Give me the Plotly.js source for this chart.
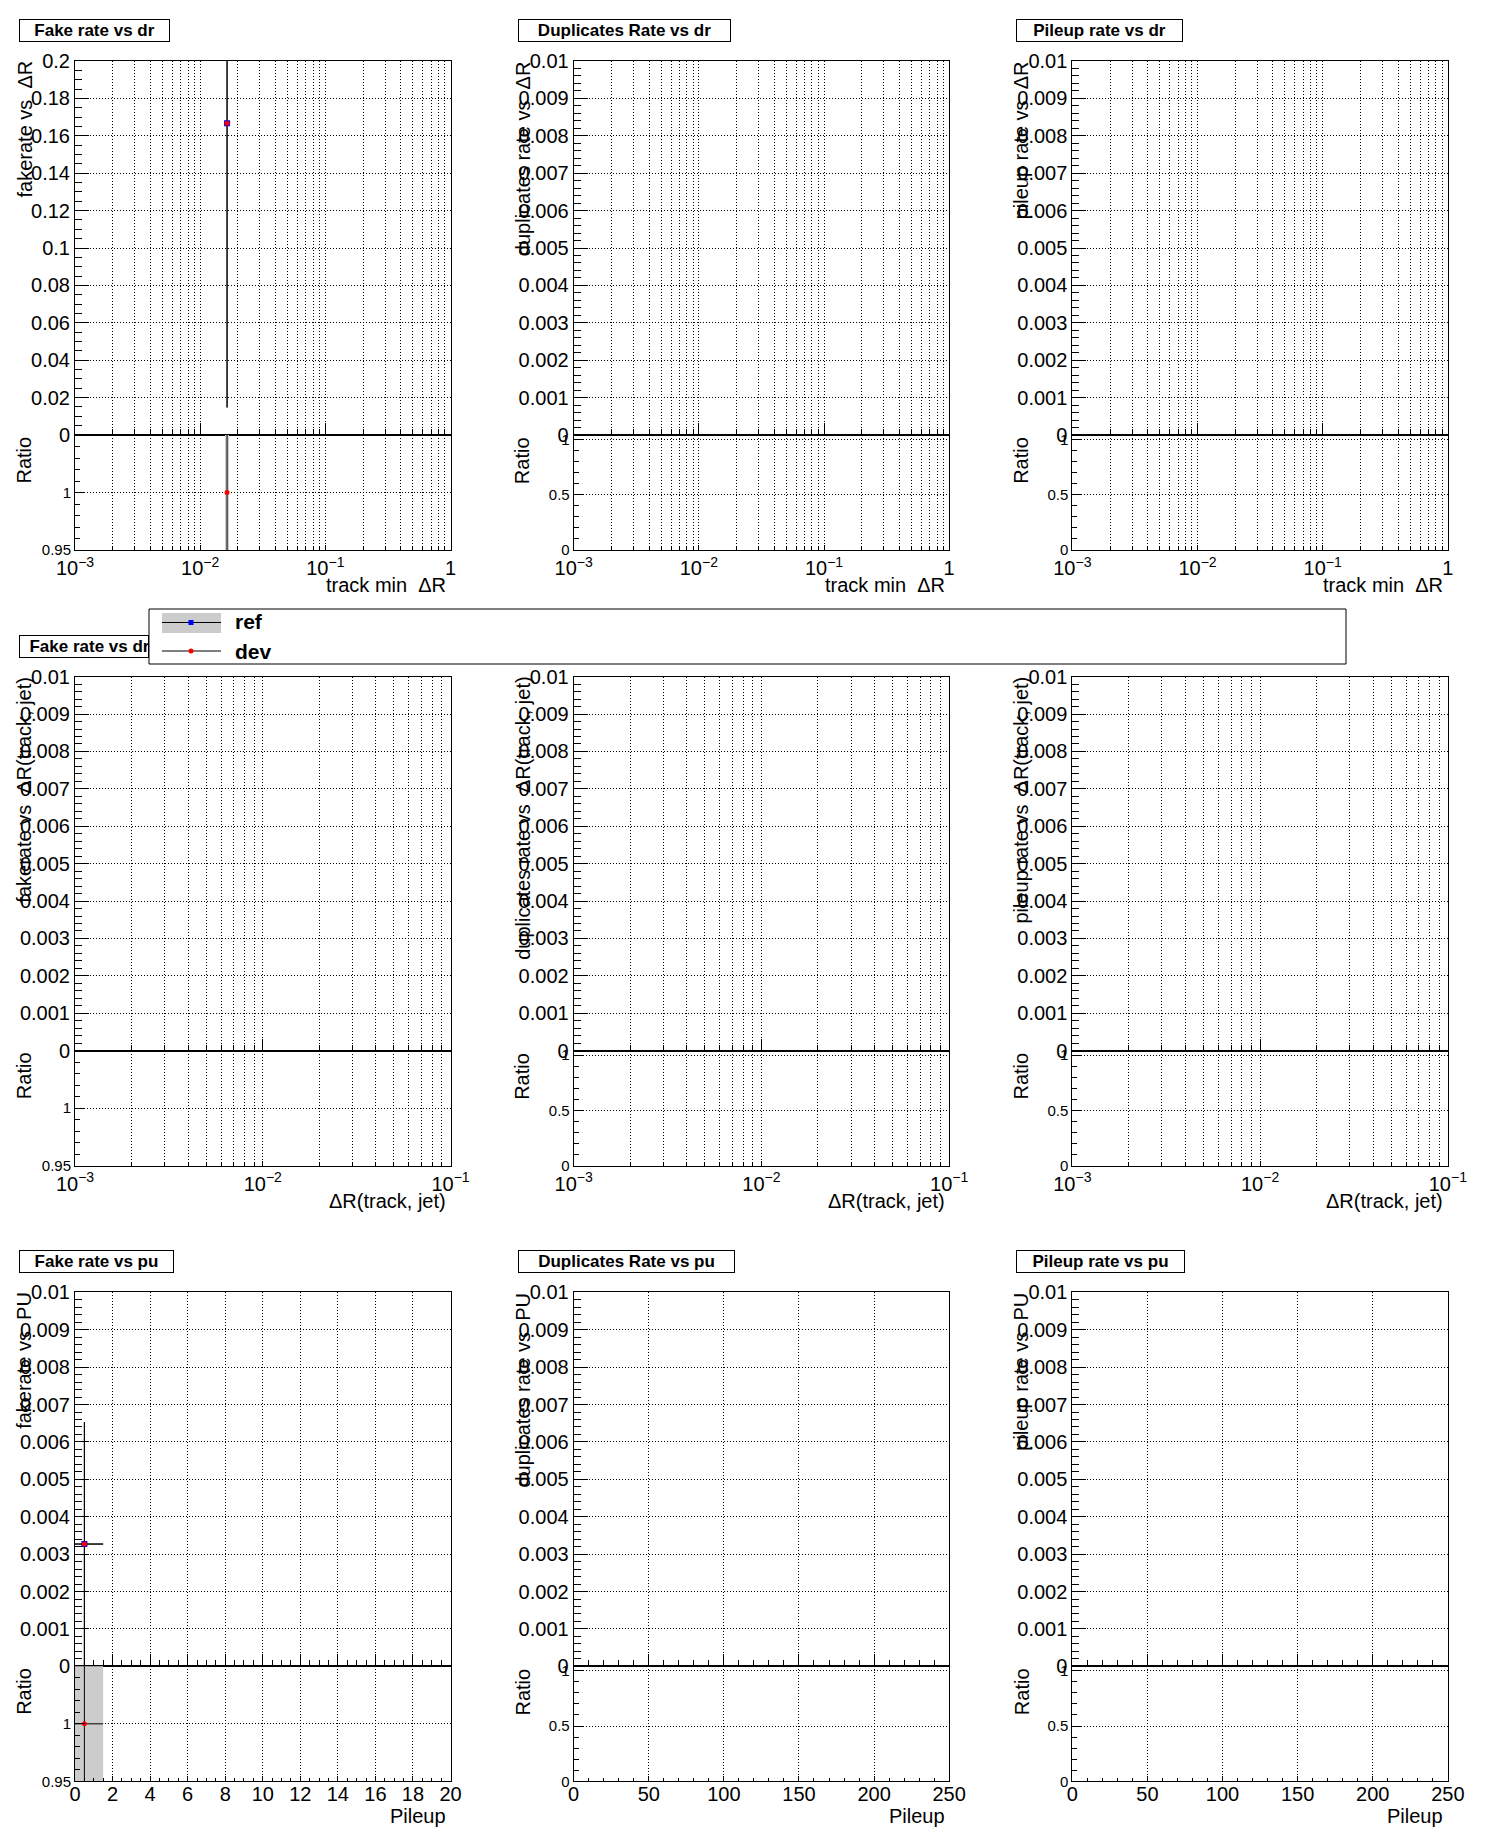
<!DOCTYPE html>
<html><head><meta charset="utf-8">
<script src="https://cdn.plot.ly/plotly-3.0.1.min.js"></script>
<style>html,body{margin:0;padding:0;background:#fff;}</style>
</head><body>
<div id="chart" style="width:1496px;height:1847px;"></div>
<script>
// ---------------- data ----------------
const panelTitles = [
  ["Fake rate vs dr", "Duplicates Rate vs dr", "Pileup rate vs dr"],
  ["Fake rate vs drj", null, null],
  ["Fake rate vs pu", "Duplicates Rate vs pu", "Pileup rate vs pu"]
];
const titleBoxWidths = [[151, 213, 167], [130, 0, 0], [155, 217, 169]];
const yTitles = [
  ["fakerate vs \u00a0\u0394R", "duplicates rate vs \u00a0\u0394R", "pileup rate vs \u00a0\u0394R"],
  ["fakerate vs \u00a0\u0394R(track, jet)", "duplicates rate vs \u00a0\u0394R(track, jet)", "pileup rate vs \u00a0\u0394R(track, jet)"],
  ["fakerate vs \u00a0PU", "duplicates rate vs \u00a0PU", "pileup rate vs \u00a0PU"]
];
const xTitles = ["track min \u00a0\u0394R", "\u0394R(track, jet)", "Pileup"];
const legendLabels = ["ref", "dev"];

const xTickValsDr = [0.001, 0.01, 0.1, 1];
const xTickTextDr = ["10<sup>\u22123</sup>", "10<sup>\u22122</sup>", "10<sup>\u22121</sup>", "1"];
const xTickValsDrj = [0.001, 0.01, 0.1];
const xTickTextDrj = ["10<sup>\u22123</sup>", "10<sup>\u22122</sup>", "10<sup>\u22121</sup>"];
const xTickValsPuFake = [0, 2, 4, 6, 8, 10, 12, 14, 16, 18, 20];
const xTickTextPuFake = ["0", "2", "4", "6", "8", "10", "12", "14", "16", "18", "20"];
const xTickValsPu = [0, 50, 100, 150, 200, 250];
const xTickTextPu = ["0", "50", "100", "150", "200", "250"];

const yTickValsFake = [0, 0.02, 0.04, 0.06, 0.08, 0.1, 0.12, 0.14, 0.16, 0.18, 0.2];
const yTickTextFake = ["0", "0.02", "0.04", "0.06", "0.08", "0.1", "0.12", "0.14", "0.16", "0.18", "0.2"];
const yTickValsRate = [0, 0.001, 0.002, 0.003, 0.004, 0.005, 0.006, 0.007, 0.008, 0.009, 0.01];
const yTickTextRate = ["0", "0.001", "0.002", "0.003", "0.004", "0.005", "0.006", "0.007", "0.008", "0.009", "0.01"];
const ratioTickValsNarrow = [0.95, 1];
const ratioTickTextNarrow = ["0.95", "1"];
const ratioTickValsWide = [0, 0.5, 1];
const ratioTickTextWide = ["0", "0.5", "1"];

// Fake rate vs track min dR: the one filled bin
const fakeDrX = [0.0164];
const fakeDrBinLo = [0.0158];
const fakeDrBinHi = [0.0170];
const fakeDrRef = [0.1667];
const fakeDrRefErr = [0.152];
const fakeDrDev = [0.1667];
const fakeDrDevErr = [0.152];

// Fake rate vs pileup: the one filled bin
const fakePuX = [0.5];
const fakePuXErr = [1.0];
const fakePuRef = [0.00327];
const fakePuRefErr = [0.00326];
const fakePuDev = [0.00327];
const fakePuDevErr = [0.00326];

// ---------------- layout helpers ----------------
const W = 1496, H = 1847;
const COLW = 498.67, ROWH = 615.67;
const FL = 75, FR = 450.5, FT = 61, FB = 435, FE = 550;
const FONT = "Liberation Sans, Arial, Helvetica, sans-serif";
const GRIDDASH = "1px,2px";
const px = x => x / W;
const py = y => 1 - y / H;
const id = n => (n === 1 ? "" : String(n));

const layout = {
  width: W, height: H, autosize: false,
  margin: {l: 0, r: 0, t: 0, b: 0},
  paper_bgcolor: "white", plot_bgcolor: "white",
  showlegend: false,
  font: {family: FONT, color: "black"},
  annotations: [],
  shapes: []
};
const traces = [];

const axBase = {
  showline: true, mirror: true, linecolor: "black", linewidth: 1,
  zeroline: false, showgrid: true, gridcolor: "black", gridwidth: 1, griddash: GRIDDASH,
  ticks: "inside", tickcolor: "black", tickwidth: 1, fixedrange: true,
  tickmode: "array"
};

function xSpec(r, c) {
  if (r === 0) return {type: "log", range: [-3, 0], tickvals: xTickValsDr, ticktext: xTickTextDr, mdt: "D1", mgrid: true, shift: 0};
  if (r === 1) return {type: "log", range: [-3, -1], tickvals: xTickValsDrj, ticktext: xTickTextDrj, mdt: "D1", mgrid: true, shift: 0};
  if (c === 0) return {type: "linear", range: [0, 20], tickvals: xTickValsPuFake, ticktext: xTickTextPuFake, mdt: 0.5, mgrid: false, shift: -5};
  return {type: "linear", range: [0, 250], tickvals: xTickValsPu, ticktext: xTickTextPu, mdt: 10, mgrid: false, shift: -5};
}

for (let r = 0; r < 3; r++) {
  for (let c = 0; c < 3; c++) {
    const p = r * 3 + c, mi = 2 * p + 1, ri = 2 * p + 2;
    const xL = FL + c * COLW, xR = FR + c * COLW;
    const yT = FT + r * ROWH, yB = FB + r * ROWH, yE = FE + r * ROWH;
    const xs = xSpec(r, c);
    const minorX = (len) => ({tickmode: "linear", dtick: xs.mdt, ticks: "inside", ticklen: len, tickcolor: "black",
      showgrid: xs.mgrid, gridcolor: "black", griddash: GRIDDASH, gridwidth: 1});

    layout["xaxis" + id(mi)] = Object.assign({}, axBase, {
      type: xs.type, range: xs.range, tickvals: xs.tickvals, ticktext: xs.ticktext,
      domain: [px(xL), px(xR)], anchor: "y" + id(mi), showticklabels: false,
      ticklen: 12, minor: minorX(6)
    });
    layout["xaxis" + id(ri)] = Object.assign({}, axBase, {
      type: xs.type, range: xs.range, tickvals: xs.tickvals, ticktext: xs.ticktext,
      domain: [px(xL), px(xR)], anchor: "y" + id(ri), showticklabels: true,
      ticklen: 5, minor: minorX(3), ticklabelstandoff: xs.shift,
      tickfont: {family: FONT, size: 20, color: "black"}
    });

    const fakeMain = (r === 0 && c === 0);
    layout["yaxis" + id(mi)] = Object.assign({}, axBase, {
      domain: [py(yB), py(yT)], anchor: "x" + id(mi),
      range: fakeMain ? [0, 0.2] : [0, 0.01],
      tickvals: fakeMain ? yTickValsFake : yTickValsRate,
      ticktext: fakeMain ? yTickTextFake : yTickTextRate,
      ticklen: 14,
      minor: {tickmode: "linear", dtick: fakeMain ? 0.005 : 0.0002, ticks: "inside", ticklen: 7, tickcolor: "black", showgrid: false},
      tickfont: {family: FONT, size: 20, color: "black"}
    });
    const narrow = (c === 0);
    layout["yaxis" + id(ri)] = Object.assign({}, axBase, {
      domain: [py(yE), py(yB)], anchor: "x" + id(ri),
      range: narrow ? [0.95, 1.05] : [0, 1.04],
      tickvals: narrow ? ratioTickValsNarrow : ratioTickValsWide,
      ticktext: narrow ? ratioTickTextNarrow : ratioTickTextWide,
      ticklen: 10,
      minor: {tickmode: "linear", dtick: narrow ? 0.01 : 0.1, ticks: "inside", ticklen: 5, tickcolor: "black", showgrid: false},
      tickfont: {family: FONT, size: 15, color: "black"}
    });

    // empty traces so every subplot exists
    traces.push({x: [], y: [], type: "scatter", mode: "markers", xaxis: "x" + id(mi), yaxis: "y" + id(mi), hoverinfo: "skip"});
    traces.push({x: [], y: [], type: "scatter", mode: "markers", xaxis: "x" + id(ri), yaxis: "y" + id(ri), hoverinfo: "skip"});

    // panel title box
    const t = panelTitles[r][c];
    if (t) {
      const clipped = (r === 1);
      layout.annotations.push({
        xref: "paper", yref: "paper", x: px(19 + c * COLW), y: py(19 + r * ROWH),
        xanchor: "left", yanchor: "top", showarrow: false,
        text: clipped ? "<b>\u00a0\u00a0" + t + "</b>" : "<b>" + t + "</b>",
        align: clipped ? "left" : "center",
        width: titleBoxWidths[r][c] - 2, height: 21, borderpad: 0,
        bordercolor: "black", borderwidth: 1, bgcolor: "white",
        font: {family: FONT, size: 17, color: "black"}
      });
    }
    // y titles
    layout.annotations.push({
      xref: "paper", yref: "paper", x: px(24 + c * COLW), y: py(yT - 2),
      xanchor: "center", yanchor: "top", showarrow: false, textangle: -90,
      text: yTitles[r][c], font: {family: FONT, size: 20, color: "black"}
    });
    layout.annotations.push({
      xref: "paper", yref: "paper", x: px(24 + c * COLW), y: py(yB),
      xanchor: "center", yanchor: "top", showarrow: false, textangle: -90,
      text: "Ratio", font: {family: FONT, size: 20, color: "black"}
    });
    // x title
    layout.annotations.push({
      xref: "paper", yref: "paper", x: px(448 + c * COLW), y: py(585 + r * ROWH),
      xanchor: "right", yanchor: "middle", showarrow: false,
      text: xTitles[r], font: {family: FONT, size: 20, color: "black"}
    });
  }
}

// ---------------- data traces ----------------
function addSeries(n, nr, x, xErr, lo, hi, ref, refErr, dev, devErr) {
  const errX = xErr ? {type: "data", array: xErr, color: "black", thickness: 1, width: 0} : {visible: false};
  traces.push({
    x: x, y: ref, type: "scatter", mode: "markers", xaxis: "x" + id(n), yaxis: "y" + id(n),
    marker: {symbol: "square", color: "blue", size: 6},
    error_y: {type: "data", array: refErr, color: "black", thickness: 1, width: 0},
    error_x: errX, hoverinfo: "skip"
  });
  traces.push({
    x: x, y: dev, type: "scatter", mode: "markers", xaxis: "x" + id(n), yaxis: "y" + id(n),
    marker: {symbol: "circle", color: "red", size: 5},
    error_y: {type: "data", array: devErr, color: "black", thickness: 1, width: 0},
    error_x: errX, hoverinfo: "skip"
  });
  // ratio: reference uncertainty band
  const bx = [], by = [];
  for (let i = 0; i < x.length; i++) {
    const e = refErr[i] / ref[i];
    bx.push(lo[i], hi[i], hi[i], lo[i], lo[i], null);
    by.push(1 - e, 1 - e, 1 + e, 1 + e, 1 - e, null);
  }
  traces.push({
    x: bx, y: by, type: "scatter", mode: "lines", fill: "toself", fillcolor: "#cccccc",
    line: {width: 0, color: "#cccccc"}, xaxis: "x" + id(nr), yaxis: "y" + id(nr), hoverinfo: "skip"
  });
  traces.push({
    x: x, y: dev.map((v, i) => v / ref[i]), type: "scatter", mode: "markers",
    xaxis: "x" + id(nr), yaxis: "y" + id(nr),
    marker: {symbol: "circle", color: "red", size: 5},
    error_y: {type: "data", array: devErr.map((v, i) => v / ref[i]), color: "black", thickness: 1, width: 0},
    error_x: errX, hoverinfo: "skip"
  });
}
addSeries(1, 2, fakeDrX, null, fakeDrBinLo, fakeDrBinHi, fakeDrRef, fakeDrRefErr, fakeDrDev, fakeDrDevErr);
addSeries(13, 14, fakePuX, fakePuXErr,
  fakePuX.map((v, i) => v - fakePuXErr[i]), fakePuX.map((v, i) => v + fakePuXErr[i]),
  fakePuRef, fakePuRefErr, fakePuDev, fakePuDevErr);

// ---------------- legend box (shapes + text) ----------------
const legL = 149, legT = 609, legR = 1346, legB = 664;
const S = layout.shapes;
const sh = (o) => S.push(Object.assign({xref: "paper", yref: "paper", layer: "above"}, o));
sh({type: "rect", x0: px(legL), x1: px(legR), y0: py(legB), y1: py(legT), fillcolor: "white", line: {color: "black", width: 1}});
sh({type: "rect", x0: px(162), x1: px(221), y0: py(633), y1: py(613), fillcolor: "#cccccc", line: {width: 0}});
sh({type: "line", x0: px(162), x1: px(221), y0: py(622.5), y1: py(622.5), line: {color: "black", width: 1}});
sh({type: "line", x0: px(162), x1: px(221), y0: py(651), y1: py(651), line: {color: "black", width: 1}});
sh({type: "rect", x0: px(188.5), x1: px(193.5), y0: py(625), y1: py(620), fillcolor: "blue", line: {width: 0}});
sh({type: "circle", x0: px(188.5), x1: px(193.5), y0: py(653.5), y1: py(648.5), fillcolor: "red", line: {width: 0}});
[622, 651].forEach((yy, i) => layout.annotations.push({
  xref: "paper", yref: "paper", x: px(233), y: py(yy), xanchor: "left", yanchor: "middle",
  showarrow: false, text: "<b>" + legendLabels[i] + "</b>", font: {family: FONT, size: 21, color: "black"}
}));

Plotly.newPlot("chart", traces, layout, {staticPlot: true, displayModeBar: false});
</script>
</body></html>
